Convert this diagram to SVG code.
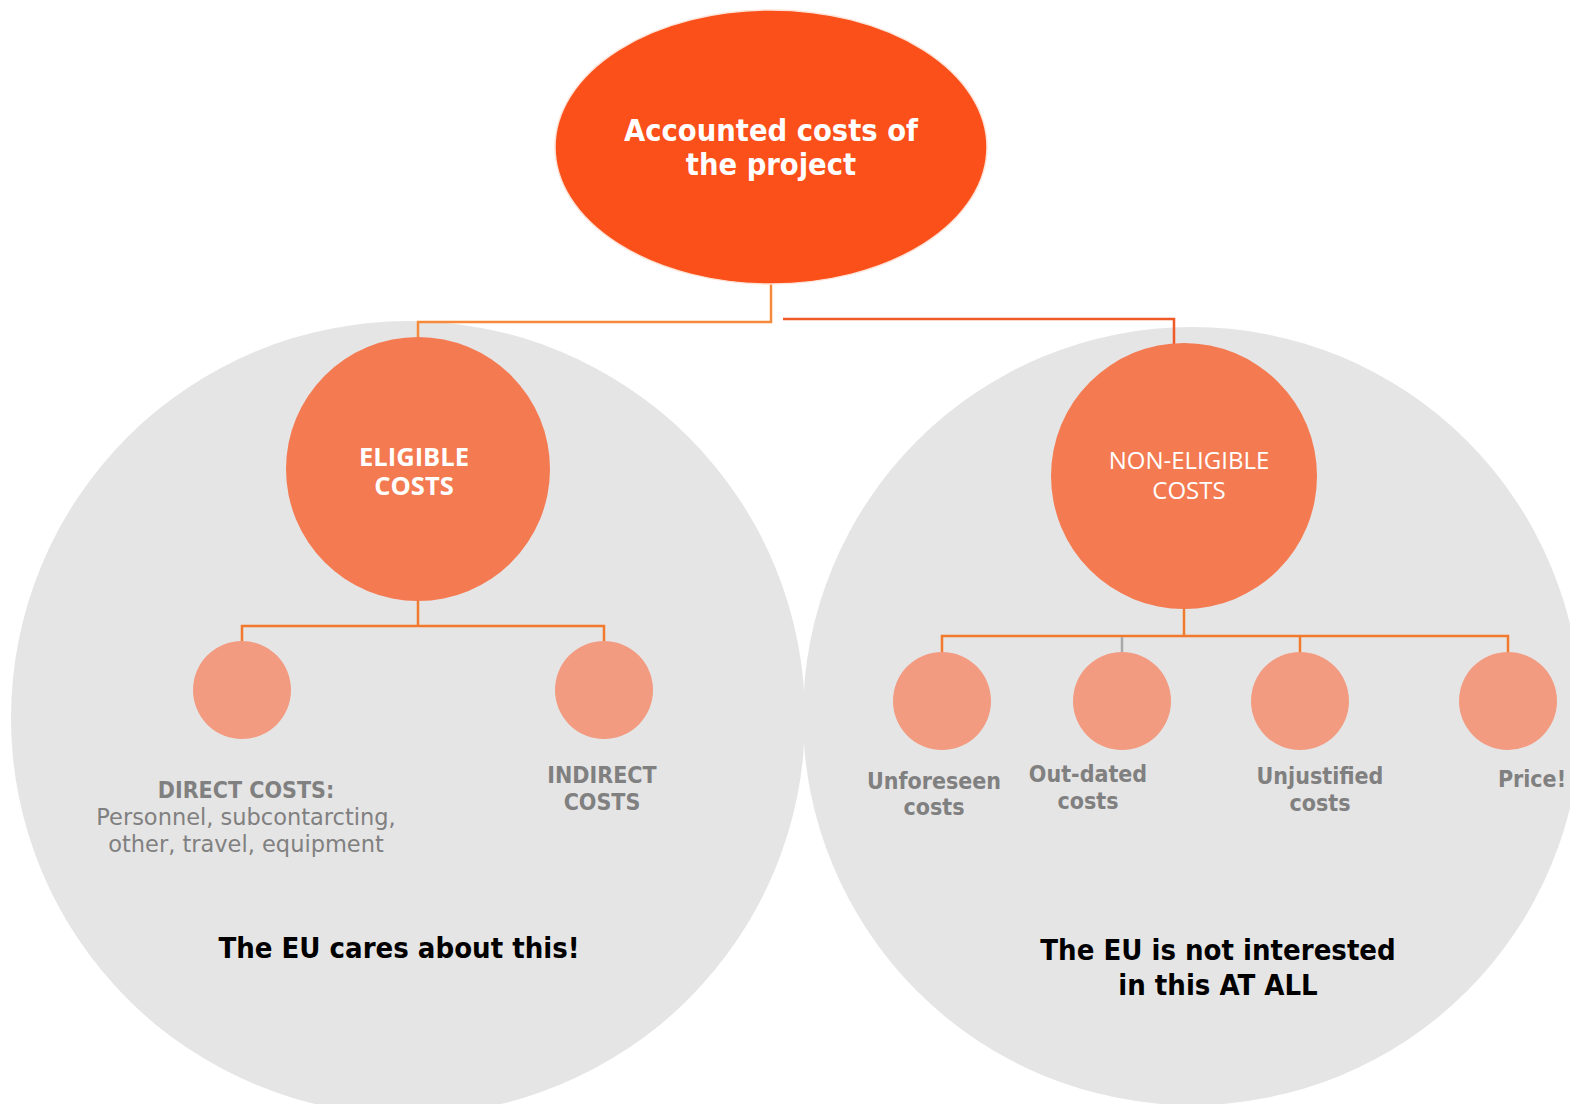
<svg xmlns="http://www.w3.org/2000/svg" width="1570" height="1104" viewBox="0 0 1570 1104">
  <style>
    .zone { fill: #e6e5e5; }
    .root { fill: #fb501a; stroke: #fde3d8; stroke-width: 1.5; }
    .mid { fill: #f47a52; }
    .leaf { fill: #f29b80; }
    .link { fill: none; stroke: #f27a2c; stroke-width: 2.5; }
    .t-root { font-family: "DejaVu Sans Condensed", "DejaVu Sans", sans-serif; font-weight: bold; font-size: 30.5px; fill: #ffffff; text-anchor: middle; }
    .t-mid-b { font-family: "Open Sans", "Noto Sans", sans-serif; font-weight: bold; font-size: 25.5px; fill: #ffffff; text-anchor: middle; }
    .t-mid { font-family: "Open Sans", "Noto Sans", sans-serif; font-size: 24px; fill: #ffffff; text-anchor: middle; }
    .t-leaf-b { font-family: "DejaVu Sans Condensed", "DejaVu Sans", sans-serif; font-weight: bold; font-size: 23px; fill: #808080; text-anchor: middle; }
    .t-leaf { font-family: "DejaVu Sans", sans-serif; font-size: 22.5px; fill: #808080; text-anchor: middle; }
    .t-note { font-family: "DejaVu Sans Condensed", "DejaVu Sans", sans-serif; font-weight: bold; font-size: 29px; fill: #000000; text-anchor: middle; }
  </style>

  <rect width="1570" height="1104" fill="#ffffff"/>

  <!-- background zones -->
  <g id="zone-eligible"><circle class="zone" cx="408" cy="718" r="397"/></g>
  <g id="zone-non-eligible"><circle class="zone" cx="1192" cy="716" r="389"/></g>

  <!-- connectors -->
  <g id="connectors">
    <polyline class="link" style="stroke:#f58a3a" points="771,284 771,322 418,322 418,338"/>
    <polyline class="link" style="stroke:#f05a26" points="783,319 1174,319 1174,344"/>
    <polyline class="link" points="418,600 418,626"/>
    <polyline class="link" points="242,641 242,626 604,626 604,641"/>
    <polyline class="link" points="1184,609 1184,636"/>
    <polyline class="link" points="942,652 942,636 1508,636 1508,652"/>
    <polyline class="link" points="1300,636 1300,652"/>
    <polyline class="link" style="stroke:#a8a8a8" points="1122,637 1122,652"/>
  </g>

  <g id="node-root">
    <ellipse class="root" cx="771" cy="147" rx="216" ry="137"/>
    <text class="t-root" x="771" y="141">Accounted costs of</text>
    <text class="t-root" x="771" y="175">the project</text>
  </g>

  <g id="node-eligible">
    <circle class="mid" cx="418" cy="469" r="132"/>
    <text class="t-mid-b" x="414" y="466">ELIGIBLE</text>
    <text class="t-mid-b" x="414" y="495">COSTS</text>
  </g>

  <g id="node-non-eligible">
    <circle class="mid" cx="1184" cy="476" r="133"/>
    <text class="t-mid" x="1189" y="469">NON-ELIGIBLE</text>
    <text class="t-mid" x="1189" y="499">COSTS</text>
  </g>

  <g id="node-direct">
    <circle class="leaf" cx="242" cy="690" r="49"/>
    <text class="t-leaf-b" x="246" y="798">DIRECT COSTS:</text>
    <text class="t-leaf" x="246" y="825">Personnel, subcontarcting,</text>
    <text class="t-leaf" x="246" y="852">other, travel, equipment</text>
  </g>

  <g id="node-indirect">
    <circle class="leaf" cx="604" cy="690" r="49"/>
    <text class="t-leaf-b" x="602" y="783">INDIRECT</text>
    <text class="t-leaf-b" x="602" y="810">COSTS</text>
  </g>

  <g id="node-unforeseen">
    <circle class="leaf" cx="942" cy="701" r="49"/>
    <text class="t-leaf-b" x="934" y="789">Unforeseen</text>
    <text class="t-leaf-b" x="934" y="815">costs</text>
  </g>

  <g id="node-outdated">
    <circle class="leaf" cx="1122" cy="701" r="49"/>
    <text class="t-leaf-b" x="1088" y="782">Out-dated</text>
    <text class="t-leaf-b" x="1088" y="809">costs</text>
  </g>

  <g id="node-unjustified">
    <circle class="leaf" cx="1300" cy="701" r="49"/>
    <text class="t-leaf-b" x="1320" y="784">Unjustified</text>
    <text class="t-leaf-b" x="1320" y="811">costs</text>
  </g>

  <g id="node-price">
    <circle class="leaf" cx="1508" cy="701" r="49"/>
    <text class="t-leaf-b" x="1532" y="787">Price!</text>
  </g>

  <g id="note-eligible">
    <text class="t-note" x="399" y="958">The EU cares about this!</text>
  </g>
  <g id="note-non-eligible">
    <text class="t-note" x="1218" y="960">The EU is not interested</text>
    <text class="t-note" x="1218" y="995">in this AT ALL</text>
  </g>
</svg>
